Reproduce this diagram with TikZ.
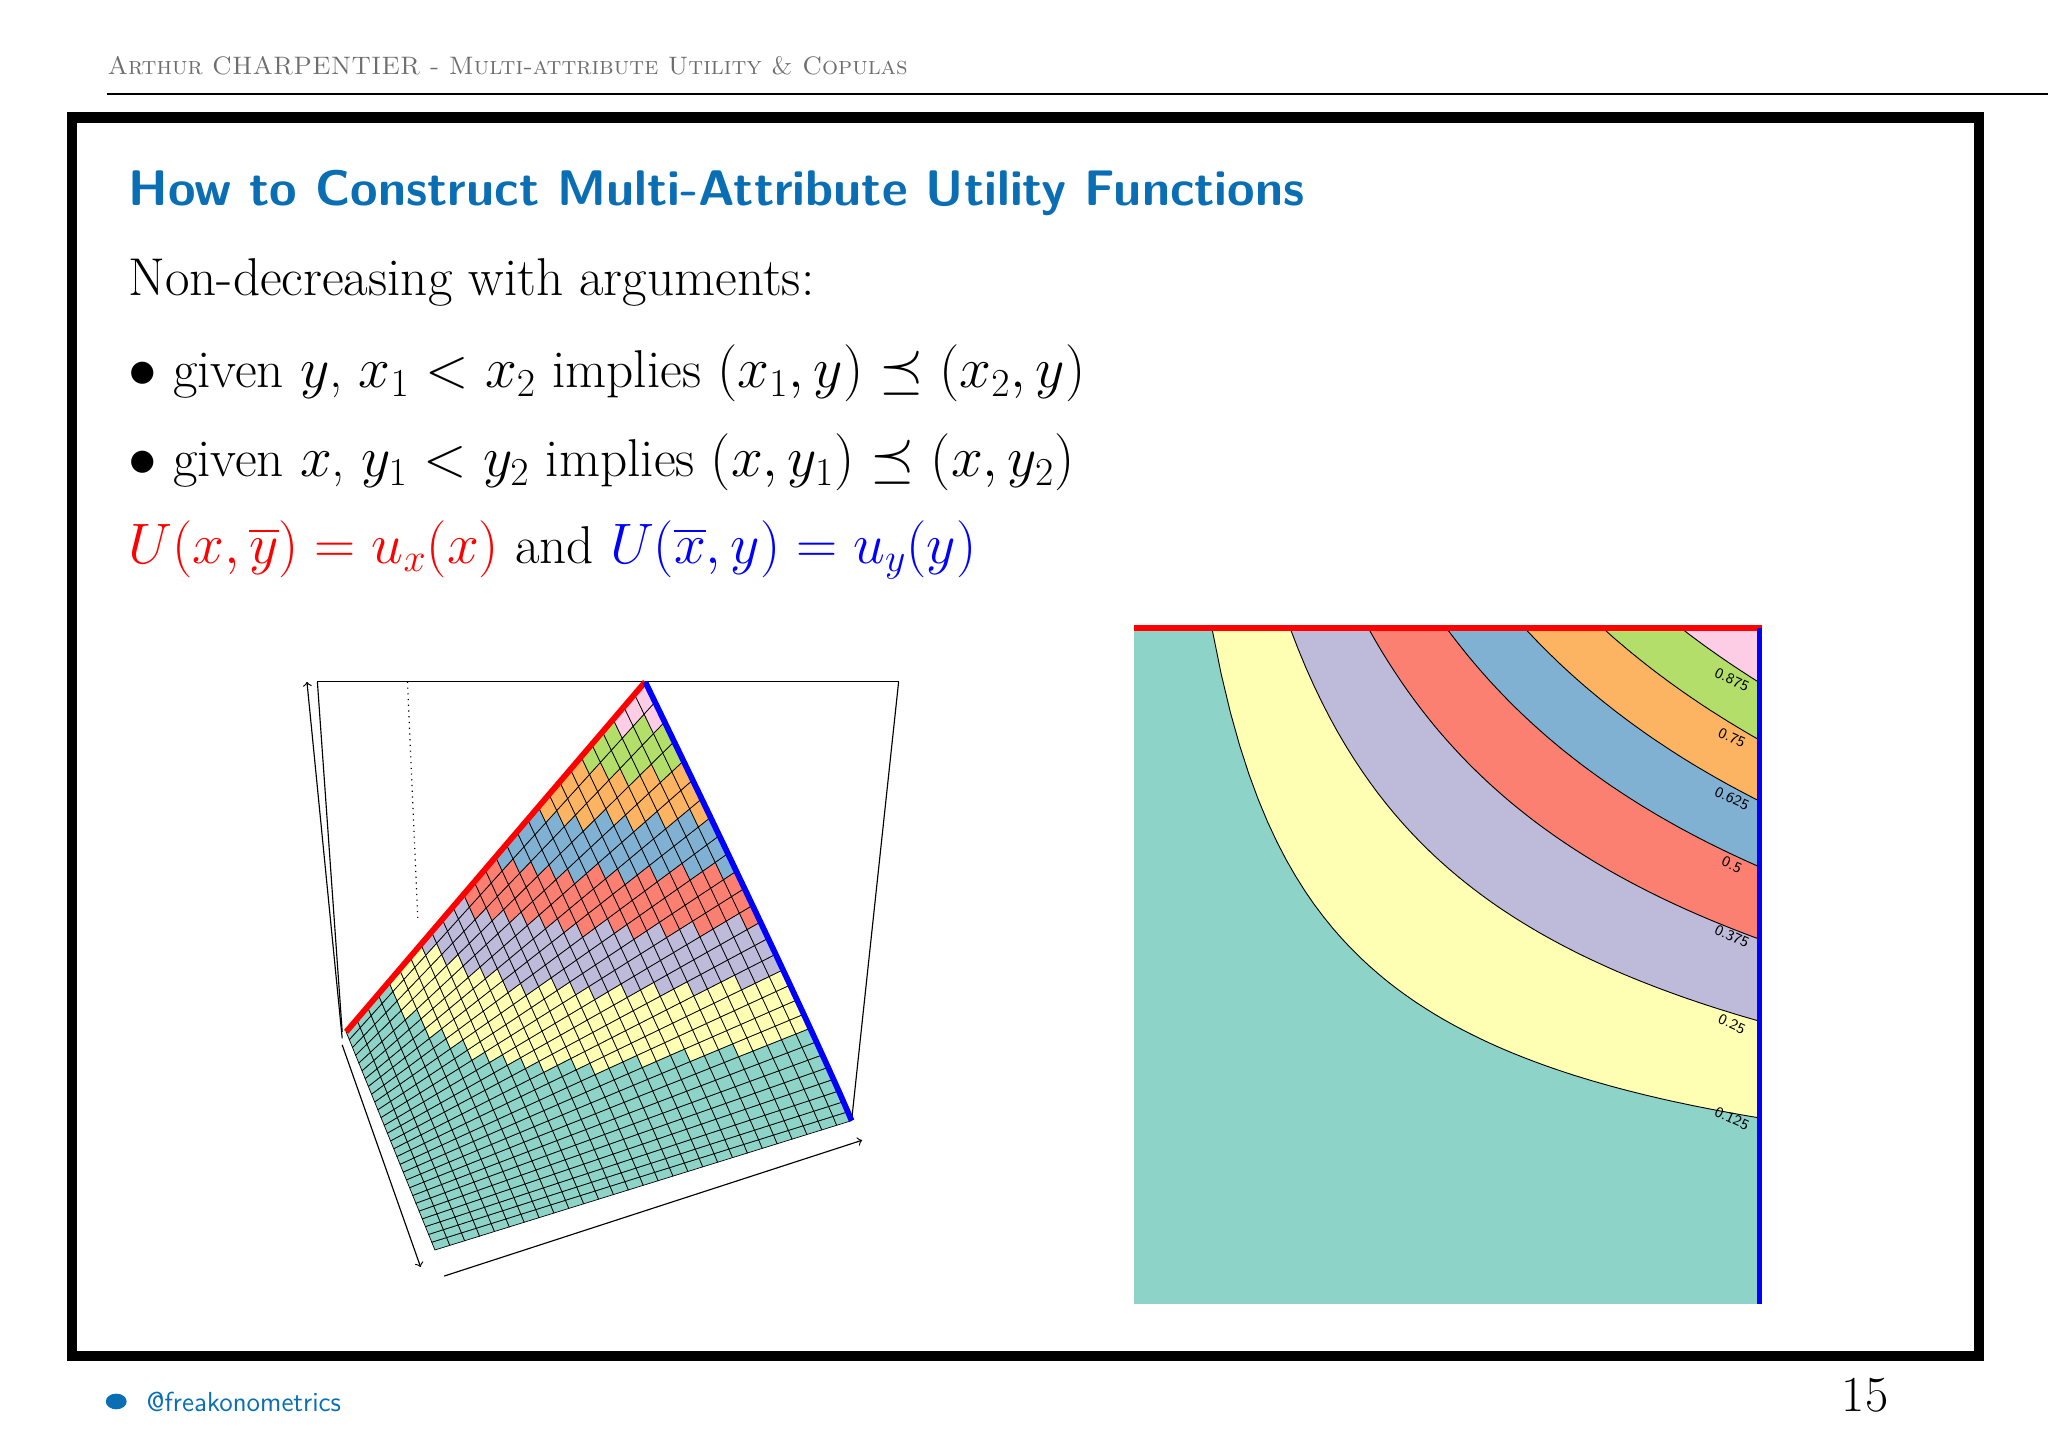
\documentclass[tikz,border=0pt]{standalone}
\usepackage{amssymb}
\begin{document}
\begin{tikzpicture}[x=0.02cm,y=-0.02cm]
\definecolor{band0}{HTML}{8DD3C7}
\definecolor{band1}{HTML}{FFFFB3}
\definecolor{band2}{HTML}{BEBADA}
\definecolor{band3}{HTML}{FB8072}
\definecolor{band4}{HTML}{80B1D3}
\definecolor{band5}{HTML}{FDB462}
\definecolor{band6}{HTML}{B3DE69}
\definecolor{band7}{HTML}{FCCDE5}
\definecolor{titleblue}{RGB}{10,110,180}
\definecolor{hdrgray}{RGB}{110,110,110}
\tikzset{txt/.style={anchor=west,inner sep=0pt,font=\fontsize{23.2}{28}\selectfont},
 boxline/.style={black,line width=0.5pt}}
\useasboundingbox (0,0) rectangle (1568,1109);
% header
\node[anchor=west,inner sep=0pt,text=hdrgray,font=\fontsize{11}{13}\selectfont] (hdr) at (82,50) {\textsc{Arthur CHARPENTIER - Multi-attribute Utility \& Copulas}};
\draw[line width=0.8pt] (82,72) -- (1568,72);
% frame
\draw[line width=4.5pt] (55,90) rectangle (1515,1038);
% title
\node[anchor=west,inner sep=0pt,text=titleblue,font=\fontsize{21.8}{26}\selectfont\sffamily\bfseries] (title) at (98,148) {How to Construct Multi-Attribute Utility Functions};
\node[txt] (l1) at (98,216) {Non-decreasing with arguments:};
\node[txt] (l2) at (98,286) {$\bullet$ given $y$, $x_1<x_2$ implies $(x_1,y)\preceq(x_2,y)$};
\node[txt] (l3) at (98,354) {$\bullet$ given $x$, $y_1<y_2$ implies $(x,y_1)\preceq(x,y_2)$};
\node[txt] (l4) at (98,421) {\color{red}$U(x,\overline{y})=u_x(x)$\color{black}\ and \color{blue}$U(\overline{x},y)=u_y(y)$};
% contour plot
\fill[band0] (868,481) rectangle (1347,998);
\foreach \n in {1,...,7}{
  \pgfmathsetmacro\cc{\n/8}
  \fill[band\n] plot[domain=\cc:1,samples=60] ({868+479*\x},{998-517*pow(\cc/\x,0.629)}) -- (1347,481) -- cycle;
  \draw[black,line width=0.4pt] plot[domain=\cc:1,samples=60] ({868+479*\x},{998-517*pow(\cc/\x,0.629)});
}
\foreach \lab/\v in {0.125/0.27,0.25/0.41,0.375/0.54,0.5/0.646,0.625/0.744,0.75/0.834,0.875/0.92}{
  \node[font=\fontsize{6.5}{7}\selectfont\sffamily,rotate=-25,inner sep=0.5pt] at (1326,{998-517*\v-2}) {\lab};
}
\draw[red,line width=2.5pt] (868,481) -- (1349,481);
\draw[blue,line width=2.5pt] (1347,481) -- (1347,998);
% 3D box
\draw[boxline,->] (262,795) -- (235,522);
\draw[boxline] (243,522) -- (688,522);
\draw[boxline] (243,522) -- (262,790);
\draw[boxline] (688,522) -- (652,858);
\draw[boxline,dotted] (312,522) -- (320,705);
\draw[boxline,->] (262,800) -- (322,970);
\draw[boxline,->] (340,977) -- (660,873);
% surface
\foreach \i in {0,...,27}{
 \foreach \j in {0,...,27}{
  \pgfmathsetmacro\sa{\i/28}\pgfmathsetmacro\sb{(\i+1)/28}
  \pgfmathsetmacro\ta{\j/28+0.00001}\pgfmathsetmacro\tb{(\j+1)/28}
  \pgfmathsetmacro\uaa{\sa*pow(\ta,1.59)}\pgfmathsetmacro\uba{\sb*pow(\ta,1.59)}
  \pgfmathsetmacro\uab{\sa*pow(\tb,1.59)}\pgfmathsetmacro\ubb{\sb*pow(\tb,1.59)}
  \pgfmathtruncatemacro\bd{min(7,8*(\i+0.5)/28*pow((\j+0.5)/28,1.59))}
  \filldraw[fill=band\bd,draw=black,line width=0.3pt]
   ({333+319*\sa-68*\ta-90*\uaa},{957-99*\sa-167*\ta-169*\uaa}) --
   ({333+319*\sb-68*\ta-90*\uba},{957-99*\sb-167*\ta-169*\uba}) --
   ({333+319*\sb-68*\tb-90*\ubb},{957-99*\sb-167*\tb-169*\ubb}) --
   ({333+319*\sa-68*\tb-90*\uab},{957-99*\sa-167*\tb-169*\uab}) -- cycle;
 }}
\draw[red,line width=2.5pt] plot[domain=0:1,samples=20] ({333+319*\x-68-90*\x},{957-99*\x-167-169*\x});
\draw[blue,line width=2.5pt] plot[domain=0:1,samples=30] ({333+319-68*\x-90*pow(\x+0.00001,1.59)},{957-99-167*\x-169*pow(\x+0.00001,1.59)});
% footer
\fill[titleblue] (89,1073) ellipse (8 and 6);
\node[anchor=west,inner sep=0pt,text=titleblue,font=\fontsize{12}{14}\selectfont\sffamily] (tw) at (112,1073) {@freakonometrics};
\node[inner sep=0pt,font=\fontsize{22}{26}\selectfont] (pg) at (1428,1068) {15};
\end{tikzpicture}
\end{document}
